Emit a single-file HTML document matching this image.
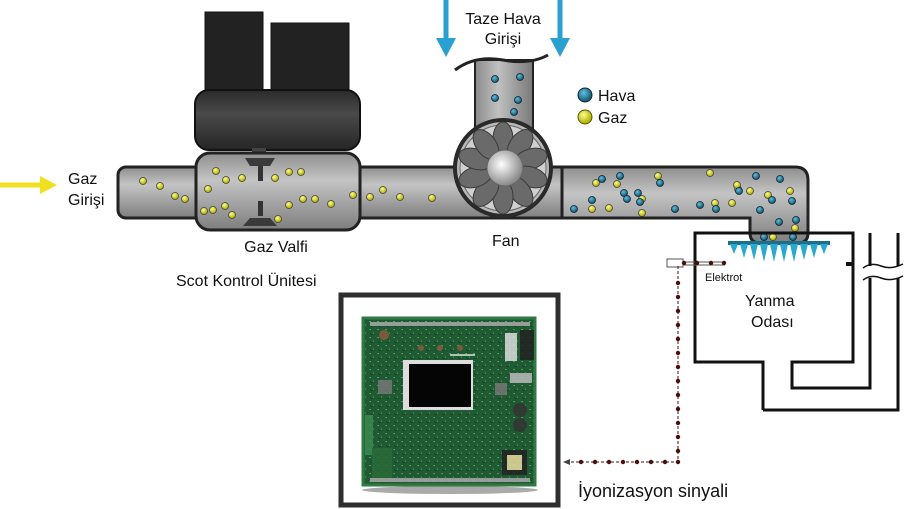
<!DOCTYPE html>
<html><head><meta charset="utf-8"><style>
html,body{margin:0;padding:0;background:#fff;width:906px;height:509px;overflow:hidden}
svg{display:block}
text{font-family:"Liberation Sans",sans-serif;fill:#111}
</style></head><body>
<svg width="906" height="509" viewBox="0 0 906 509" xmlns="http://www.w3.org/2000/svg">
<defs>
<linearGradient id="pipe" x1="0" y1="0" x2="0" y2="1">
<stop offset="0" stop-color="#8e8e8e"/><stop offset="0.35" stop-color="#c4c4c4"/><stop offset="1" stop-color="#7e7e7e"/></linearGradient>
<linearGradient id="pipeV" x1="0" y1="0" x2="1" y2="0">
<stop offset="0" stop-color="#8a8a8a"/><stop offset="0.4" stop-color="#c0c0c0"/><stop offset="1" stop-color="#7a7a7a"/></linearGradient>
<linearGradient id="cyl" x1="0" y1="0" x2="0" y2="1">
<stop offset="0" stop-color="#2a2a2a"/><stop offset="0.4" stop-color="#4a4a4a"/><stop offset="1" stop-color="#262626"/></linearGradient>
<radialGradient id="hub" cx="0.4" cy="0.4" r="0.6"><stop offset="0" stop-color="#fff"/><stop offset="1" stop-color="#888"/></radialGradient>
<radialGradient id="yd" cx="0.4" cy="0.35" r="0.6"><stop offset="0" stop-color="#ffff90"/><stop offset="1" stop-color="#b0b000"/></radialGradient>
<radialGradient id="bd" cx="0.4" cy="0.35" r="0.6"><stop offset="0" stop-color="#5fc0e0"/><stop offset="1" stop-color="#155a70"/></radialGradient>
<pattern id="pcb" width="8" height="8" patternUnits="userSpaceOnUse">
<rect width="8" height="8" fill="#1f5a32"/><rect x="1" y="1" width="2" height="1" fill="#4a9a62"/><rect x="5" y="4" width="1" height="2" fill="#3a8050"/><rect x="2" y="6" width="3" height="1" fill="#17472a"/></pattern>
</defs>

<line x1="0" y1="185" x2="42" y2="185" stroke="#f0e020" stroke-width="5"/>
<polygon points="40,176 57,185 40,194" fill="#f0e020"/>
<text x="68" y="184" font-size="16">Gaz</text>
<text x="68" y="205" font-size="16">Girişi</text>

<rect x="205" y="12" width="58" height="90" fill="#222" stroke="#111"/>
<rect x="271" y="23" width="78" height="72" fill="#222" stroke="#111"/>
<rect x="195" y="90" width="165" height="60" rx="14" fill="url(#cyl)" stroke="#111" stroke-width="2"/>
<rect x="252" y="148" width="14" height="8" fill="#444"/>

<rect x="118" y="167" width="450" height="51" rx="8" fill="url(#pipe)" stroke="#222" stroke-width="3"/>
<rect x="196" y="153" width="164" height="77" rx="14" fill="url(#pipe)" stroke="#222" stroke-width="3"/>
<polygon points="245,158 275,158 270,166 250,166" fill="#3a3a3a"/>
<rect x="258" y="166" width="5" height="15" fill="#333"/>
<rect x="258" y="201" width="5" height="15" fill="#333"/>
<polygon points="250,218 270,218 277,226 243,226" fill="#3a3a3a"/>

<path d="M562,167 H795 Q808,167 808,180 V233 Q808,243 798,243 H760 Q750,243 750,233 V218 H562 Z" fill="url(#pipe)" stroke="#222" stroke-width="3"/>

<rect x="475" y="60" width="58" height="110" fill="url(#pipeV)" stroke="#222" stroke-width="2"/>
<path d="M455,70 Q475,55 503,60 Q530,65 548,55" fill="none" stroke="#222" stroke-width="3"/>

<circle cx="503" cy="168" r="48" fill="#b8b8b8" stroke="#2a2a2a" stroke-width="4"/>
<circle cx="503" cy="168" r="43" fill="#d0d0d0" stroke="#666" stroke-width="1"/>
<g fill="#6a6a6a" stroke="#3a3a3a" stroke-width="1">
<ellipse cx="503" cy="139" rx="10" ry="17" transform="rotate(0 503 168)"/>
<ellipse cx="503" cy="139" rx="10" ry="17" transform="rotate(36 503 168)"/>
<ellipse cx="503" cy="139" rx="10" ry="17" transform="rotate(72 503 168)"/>
<ellipse cx="503" cy="139" rx="10" ry="17" transform="rotate(108 503 168)"/>
<ellipse cx="503" cy="139" rx="10" ry="17" transform="rotate(144 503 168)"/>
<ellipse cx="503" cy="139" rx="10" ry="17" transform="rotate(180 503 168)"/>
<ellipse cx="503" cy="139" rx="10" ry="17" transform="rotate(216 503 168)"/>
<ellipse cx="503" cy="139" rx="10" ry="17" transform="rotate(252 503 168)"/>
<ellipse cx="503" cy="139" rx="10" ry="17" transform="rotate(288 503 168)"/>
<ellipse cx="503" cy="139" rx="10" ry="17" transform="rotate(324 503 168)"/>
</g>
<circle cx="505" cy="168" r="18" fill="url(#hub)" stroke="#666"/>

<line x1="446" y1="0" x2="446" y2="40" stroke="#2aa0d0" stroke-width="5"/>
<polygon points="436,38 456,38 446,57" fill="#2aa0d0"/>
<line x1="560" y1="0" x2="560" y2="40" stroke="#2aa0d0" stroke-width="5"/>
<polygon points="550,38 570,38 560,57" fill="#2aa0d0"/>
<text x="503" y="24" font-size="16" text-anchor="middle">Taze Hava</text>
<text x="503" y="44" font-size="16" text-anchor="middle">Girişi</text>

<circle cx="585" cy="95" r="7" fill="url(#bd)" stroke="#124"/>
<text x="598" y="101" font-size="16">Hava</text>
<circle cx="585" cy="117" r="7" fill="url(#yd)" stroke="#550"/>
<text x="598" y="123" font-size="16">Gaz</text>

<g fill="url(#yd)" stroke="#444" stroke-width="0.8">
<circle cx="143" cy="181" r="3.5"/><circle cx="160" cy="186" r="3.5"/><circle cx="175" cy="196" r="3.5"/><circle cx="185" cy="199" r="3.5"/>
<circle cx="216" cy="171" r="3.5"/><circle cx="226" cy="180" r="3.5"/><circle cx="208" cy="189" r="3.5"/><circle cx="242" cy="178" r="3.5"/>
<circle cx="204" cy="211" r="3.5"/><circle cx="213" cy="210" r="3.5"/><circle cx="225" cy="206" r="3.5"/><circle cx="232" cy="215" r="3.5"/>
<circle cx="275" cy="178" r="3.5"/><circle cx="289" cy="172" r="3.5"/><circle cx="301" cy="172" r="3.5"/><circle cx="289" cy="205" r="3.5"/>
<circle cx="303" cy="199" r="3.5"/><circle cx="315" cy="199" r="3.5"/><circle cx="331" cy="204" r="3.5"/><circle cx="278" cy="219" r="3.5"/>
<circle cx="353" cy="195" r="3.5"/><circle cx="370" cy="197" r="3.5"/><circle cx="383" cy="190" r="3.5"/><circle cx="400" cy="197" r="3.5"/><circle cx="432" cy="198" r="3.5"/>
<circle cx="596" cy="183" r="3.5"/><circle cx="617" cy="184" r="3.5"/><circle cx="592" cy="209" r="3.5"/><circle cx="609" cy="208" r="3.5"/>
<circle cx="642" cy="199" r="3.5"/><circle cx="658" cy="176" r="3.5"/><circle cx="710" cy="173" r="3.5"/><circle cx="738" cy="189" r="3.5"/>
<circle cx="737" cy="185" r="3.5"/><circle cx="732" cy="203" r="3.5"/><circle cx="715" cy="203" r="3.5"/><circle cx="750" cy="191" r="3.5"/>
<circle cx="768" cy="195" r="3.5"/><circle cx="790" cy="191" r="3.5"/><circle cx="795" cy="228" r="3.5"/><circle cx="773" cy="237" r="3.5"/><circle cx="642" cy="213" r="3.5"/>
</g>
<g fill="url(#bd)" stroke="#123" stroke-width="0.8">
<circle cx="495" cy="79" r="3.5"/><circle cx="520" cy="77" r="3.5"/><circle cx="495" cy="98" r="3.5"/><circle cx="518" cy="100" r="3.5"/><circle cx="514" cy="112" r="3.5"/>
<circle cx="574" cy="209" r="3.5"/><circle cx="602" cy="179" r="3.5"/><circle cx="620" cy="176" r="3.5"/><circle cx="592" cy="200" r="3.5"/>
<circle cx="624" cy="193" r="3.5"/><circle cx="638" cy="193" r="3.5"/><circle cx="640" cy="202" r="3.5"/><circle cx="627" cy="199" r="3.5"/>
<circle cx="660" cy="183" r="3.5"/><circle cx="675" cy="209" r="3.5"/><circle cx="700" cy="205" r="3.5"/><circle cx="716" cy="209" r="3.5"/>
<circle cx="739" cy="191" r="3.5"/><circle cx="756" cy="176" r="3.5"/><circle cx="780" cy="179" r="3.5"/><circle cx="772" cy="200" r="3.5"/>
<circle cx="792" cy="201" r="3.5"/><circle cx="796" cy="220" r="3.5"/><circle cx="760" cy="210" r="3.5"/><circle cx="779" cy="222" r="3.5"/><circle cx="764" cy="237" r="3.5"/><circle cx="793" cy="237" r="3.5"/>
</g>

<text x="276" y="252" font-size="16" text-anchor="middle">Gaz Valfi</text>
<text x="176" y="286" font-size="16">Scot Kontrol Ünitesi</text>
<text x="492" y="246" font-size="16">Fan</text>

<path d="M763,410 V362 H695 V233 H853 V362 H792 V388 H870 V233" fill="none" stroke="#111" stroke-width="3"/>
<path d="M763,410 H898 V233" fill="none" stroke="#111" stroke-width="3"/>
<rect x="860" y="266" width="46" height="12" fill="#fff"/>
<path d="M863,268 q8,-6 18,-2 t22,-2 M863,280 q8,-6 18,-2 t22,-2" fill="none" stroke="#111" stroke-width="1.5"/>
<rect x="846" y="262" width="6" height="4" fill="#111"/>
<rect x="728" y="241" width="102" height="4" fill="#1a6f8a"/>
<g fill="#2aa8d0">
<polygon points="730,244 738,244 734,254"/><polygon points="740,244 748,244 744,258"/><polygon points="750,244 758,244 754,260"/>
<polygon points="760,244 768,244 764,262"/><polygon points="770,244 778,244 774,262"/><polygon points="780,244 788,244 784,262"/>
<polygon points="790,244 798,244 794,262"/><polygon points="800,244 808,244 804,260"/><polygon points="810,244 818,244 814,258"/>
<polygon points="820,244 828,244 824,254"/>
</g>
<text x="745" y="306" font-size="16" fill="#111">Yanma</text>
<text x="751" y="327" font-size="16">Odası</text>

<rect x="667" y="259" width="16" height="8" fill="#fff" stroke="#555" stroke-width="1"/>
<line x1="683" y1="262" x2="725" y2="262" stroke="#555" stroke-width="1"/>
<line x1="683" y1="265" x2="725" y2="265" stroke="#555" stroke-width="1"/>
<g fill="#4a0e0e"><circle cx="684" cy="263" r="2.2"/><circle cx="697" cy="263" r="2.2"/><circle cx="711" cy="263" r="2.2"/><circle cx="724" cy="263" r="2.2"/></g>
<text x="705" y="281" font-size="11">Elektrot</text>

<path d="M678,266 V462 H568" fill="none" stroke="#4a0e0e" stroke-width="1" stroke-dasharray="3,2"/>
<g fill="#4a0e0e">
<circle cx="678" cy="283" r="2.2"/><circle cx="678" cy="297" r="2.2"/><circle cx="678" cy="311" r="2.2"/><circle cx="678" cy="325" r="2.2"/>
<circle cx="678" cy="339" r="2.2"/><circle cx="678" cy="353" r="2.2"/><circle cx="678" cy="367" r="2.2"/><circle cx="678" cy="381" r="2.2"/>
<circle cx="678" cy="395" r="2.2"/><circle cx="678" cy="409" r="2.2"/><circle cx="678" cy="423" r="2.2"/><circle cx="678" cy="437" r="2.2"/>
<circle cx="678" cy="451" r="2.2"/><circle cx="678" cy="462" r="2.2"/>
<circle cx="665" cy="462" r="2.2"/><circle cx="651" cy="462" r="2.2"/><circle cx="637" cy="462" r="2.2"/><circle cx="623" cy="462" r="2.2"/>
<circle cx="609" cy="462" r="2.2"/><circle cx="595" cy="462" r="2.2"/><circle cx="581" cy="462" r="2.2"/>
</g>
<polygon points="563,462 570,459 570,465" fill="#444"/>
<text x="578" y="497" font-size="18">İyonizasyon sinyali</text>

<rect x="341" y="295" width="217" height="210" fill="#fff" stroke="#2e2e2e" stroke-width="5"/>
<ellipse cx="450" cy="490" rx="88" ry="4" fill="#aaa"/>
<rect x="363" y="318" width="172" height="167" fill="url(#pcb)"/>
<rect x="363" y="318" width="172" height="167" fill="none" stroke="#2f7a44" stroke-width="3"/>
<g fill="#3a8a52" opacity="0.85">
<rect x="370" y="322" width="160" height="4" fill="#aaa"/><rect x="370" y="478" width="160" height="4" fill="#aaa"/>
<rect x="365" y="415" width="8" height="40"/>
<circle cx="384" cy="335" r="5" fill="#8a5a3a"/>
<circle cx="421" cy="348" r="3" fill="#8a5a3a"/><circle cx="440" cy="348" r="3" fill="#8a5a3a"/><circle cx="460" cy="348" r="3" fill="#8a5a3a"/>
<line x1="450" y1="355" x2="475" y2="355" stroke="#fff" stroke-width="1.5"/>
<rect x="378" y="380" width="14" height="14" fill="#777"/>
<rect x="495" y="383" width="12" height="12" fill="#777"/>
<rect x="520" y="330" width="14" height="30" fill="#222"/>
<rect x="505" y="333" width="12" height="28" fill="#ddd"/>
<rect x="510" y="373" width="22" height="10" fill="#bbb"/>
<circle cx="520" cy="410" r="7" fill="#333"/><circle cx="520" cy="425" r="7" fill="#333"/>
<rect x="502" y="450" width="25" height="25" fill="#222"/>
<rect x="507" y="455" width="15" height="15" fill="#e8dca0"/>
<rect x="372" y="448" width="20" height="30" fill="#2a6a3a"/>
</g>
<rect x="403" y="360" width="70" height="50" fill="#ddd"/>
<rect x="409" y="364" width="62" height="43" fill="#050505"/>
</svg>
</body></html>
